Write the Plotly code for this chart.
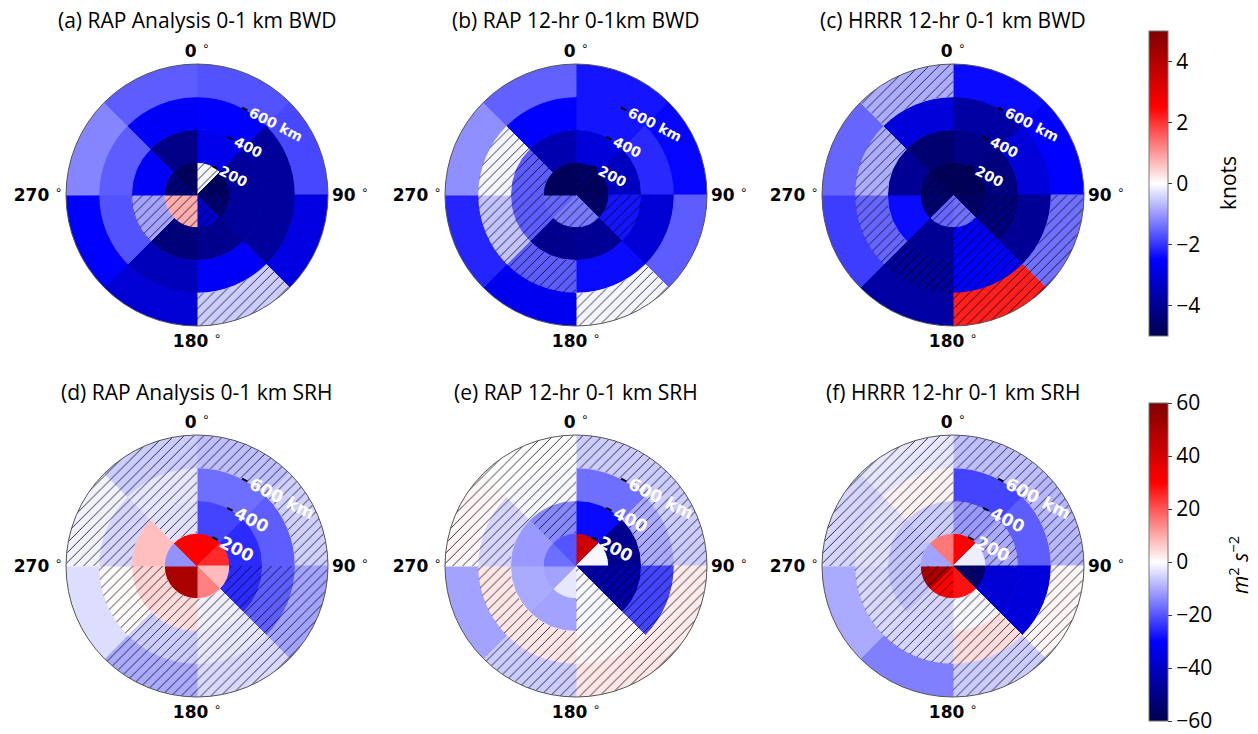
import plotly.graph_objects as go

W, H = 1258, 734

# sector centres (deg clockwise from north) and ring bases (km)
sector_centers = [22.5, 67.5, 112.5, 157.5, 202.5, 247.5, 292.5, 337.5]
sector_width = 45
ring_bases = [0, 200, 400, 600]
ring_depth = 200
radial_ticks = [200, 400, 600]
radial_ticktext = ["200", "400", "600 km"]
angle_ticks = [0, 90, 180, 270]

titles = ["(a) RAP Analysis 0-1 km BWD", "(b) RAP 12-hr 0-1km BWD", "(c) HRRR 12-hr 0-1 km BWD",
          "(d) RAP Analysis 0-1 km SRH", "(e) RAP 12-hr 0-1 km SRH", "(f) HRRR 12-hr 0-1 km SRH"]

# values per ring (inner -> outer), sectors 0-45 ... 315-360
bwd_rap_anl = [[-0.1, -4.8, -4.5, -3.2, 0.8, 0.8, -4.4, -4.8],
               [-2.8, -3.9, -3.9, -4.1, -4.4, -0.9, -2.6, -4.2],
               [-2.5, -3.9, -3.9, -2.6, -3.5, -1.7, -1.6, -2.6],
               [-1.7, -1.8, -2.9, -0.5, -3.1, -2.5, -1.2, -1.6]]
bwd_rap_anl_sig = [[1, 0, 1, 1, 1, 1, 1, 0],
                   [0, 0, 0, 0, 0, 1, 0, 0],
                   [0, 0, 0, 0, 0, 0, 0, 0],
                   [0, 0, 0, 1, 0, 0, 0, 0]]

bwd_rap_12 = [[-4.6, -4.8, -4.7, -1.3, -1.3, -1.5, -4.8, -4.8],
              [-3.0, -3.4, -2.3, -4.0, -4.1, -1.6, -1.6, -3.6],
              [-2.3, -2.1, -3.1, -2.4, -1.6, -0.6, -0.1, -2.5],
              [-2.3, -2.45, -1.6, -0.1, -2.7, -2.15, -1.1, -1.55]]
bwd_rap_12_sig = [[1, 0, 0, 1, 1, 1, 0, 0],
                  [0, 0, 1, 0, 0, 1, 1, 0],
                  [0, 0, 0, 0, 1, 1, 1, 0],
                  [0, 0, 0, 1, 0, 0, 0, 0]]

bwd_hrrr_12 = [[-4.9, -4.9, -4.7, -1.4, -1.5, -4.5, -4.6, -4.9],
               [-4.2, -4.3, -4.3, -2.6, -4.0, -2.4, -4.0, -4.5],
               [-3.8, -3.0, -4.0, -2.5, -3.9, -1.5, -0.8, -3.0],
               [-2.4, -2.5, -1.4, 2.2, -3.8, -1.9, -1.5, -0.8]]
bwd_hrrr_12_sig = [[0, 0, 0, 1, 1, 1, 1, 0],
                   [0, 0, 1, 1, 0, 0, 0, 0],
                   [0, 0, 0, 1, 1, 1, 1, 0],
                   [0, 0, 1, 1, 0, 0, 0, 1]]

srh_rap_anl = [[30, 25, 8, 15, 50, 50, -13, 30],
               [-22, -25, -25, -2, 4, 5, 7.5, -3.5],
               [-17, -19, -19, -3, -6, 0.5, -5, -3],
               [-7.5, -5.5, -11, -4.5, -10, -4, -1.5, -6]]
srh_rap_anl_sig = [[0, 0, 0, 0, 0, 0, 0, 0],
                   [0, 0, 1, 1, 1, 1, 0, 1],
                   [0, 0, 1, 1, 1, 1, 1, 1],
                   [1, 1, 1, 1, 1, 0, 1, 1]]

srh_rap_12 = [[42, -1, -45, -1, -3, -11, -17, -20],
              [-29, -49, -45, -1, -11, -10, -12, -14],
              [-17, -10, -22, 1, 3, 3, -5, -1],
              [-6, -6, 2.5, 3, -6, -11, 1, 0]]
srh_rap_12_sig = [[0, 0, 1, 1, 0, 0, 0, 0],
                  [0, 0, 1, 1, 0, 0, 0, 1],
                  [0, 1, 1, 1, 1, 1, 1, 1],
                  [1, 1, 1, 1, 1, 0, 1, 1]]

srh_hrrr_12 = [[30, -2, -56, 28, 30, 50, -11, 16],
               [-12, -10, -37, -1, -5, -7, -7, -6],
               [-22, -19, -36, 4, -5, -4.5, -3.5, 1.5],
               [-7.5, -8.5, 1, -6, -15, -10, -5, -3]]
srh_hrrr_12_sig = [[0, 0, 0, 0, 1, 1, 0, 0],
                   [1, 1, 0, 1, 1, 1, 1, 1],
                   [0, 0, 0, 1, 1, 1, 1, 1],
                   [1, 1, 1, 1, 0, 0, 1, 1]]

bwd_range = [-5, 5]
srh_range = [-60, 60]
bwd_cbar_ticks = [-4, -2, 0, 2, 4]
srh_cbar_ticks = [-60, -40, -20, 0, 20, 40, 60]
bwd_units = "knots"
srh_units = "<i>m</i><sup>2</sup> <i>s</i><sup>−2</sup>"

panels = [(bwd_rap_anl, bwd_rap_anl_sig, "coloraxis", bwd_range),
          (bwd_rap_12, bwd_rap_12_sig, "coloraxis", bwd_range),
          (bwd_hrrr_12, bwd_hrrr_12_sig, "coloraxis", bwd_range),
          (srh_rap_anl, srh_rap_anl_sig, "coloraxis2", srh_range),
          (srh_rap_12, srh_rap_12_sig, "coloraxis2", srh_range),
          (srh_hrrr_12, srh_hrrr_12_sig, "coloraxis2", srh_range)]

seismic = [[0.0, "rgb(0,0,77)"], [0.25, "rgb(0,0,255)"], [0.5, "rgb(255,255,255)"],
           [0.75, "rgb(255,0,0)"], [1.0, "rgb(128,0,0)"]]

# layout geometry (pixels)
centers_x = [197, 576, 953]
centers_y = [195, 566]
radius = 131

fig = go.Figure()
layout = {}
annotations = []
for i, (vals, sig, cax, crange) in enumerate(panels):
    row, col = divmod(i, 3)
    key = "polar" if i == 0 else f"polar{i+1}"
    sub = key
    th, rr, bb, cc, hth, hrr, hbb = [], [], [], [], [], [], []
    for ri, base in enumerate(ring_bases):
        for si, t in enumerate(sector_centers):
            th.append(t); rr.append(ring_depth); bb.append(base); cc.append(vals[ri][si])
            if sig[ri][si]:
                hth.append(t); hrr.append(ring_depth); hbb.append(base)
    fig.add_trace(go.Barpolar(theta=th, r=rr, base=bb, width=sector_width,
                              marker=dict(color=cc, coloraxis=cax,
                                          line=dict(width=1.0, color=cc, colorscale=seismic,
                                                    cmin=crange[0], cmax=crange[1])),
                              subplot=sub, showlegend=False, hoverinfo="skip"))
    fig.add_trace(go.Barpolar(theta=hth, r=hrr, base=hbb, width=sector_width,
                              marker=dict(color="rgba(0,0,0,0)", line=dict(width=0),
                                          pattern=dict(shape="/", fillmode="replace",
                                                       fgcolor="rgba(0,0,0,0.85)",
                                                       bgcolor="rgba(0,0,0,0)",
                                                       size=7, solidity=0.13)),
                              subplot=sub, showlegend=False, hoverinfo="skip"))
    cx, cy = centers_x[col], centers_y[row]
    rlab = 14 if row == 0 else 17
    layout[key] = dict(
        domain=dict(x=[(cx - radius) / W, (cx + radius) / W],
                    y=[1 - (cy + radius) / H, 1 - (cy - radius) / H]),
        bgcolor="white",
        angularaxis=dict(rotation=90, direction="clockwise", tickmode="array",
                         tickvals=angle_ticks,
                         ticktext=[f"<b>{a}</b> <sup>∘</sup>" for a in angle_ticks],
                         tickfont=dict(family="DejaVu Sans", size=17, color="black"),
                         showgrid=True, gridcolor="black", gridwidth=1.5,
                         showline=True, linecolor="#555", linewidth=1,
                         ticks="", layer="above traces"),
        radialaxis=dict(range=[0, 800], tickmode="array", tickvals=radial_ticks,
                        ticktext=radial_ticktext, angle=63, tickangle=90,
                        side="clockwise", showgrid=False, showline=False,
                        ticks="outside", ticklen=6, tickwidth=2, tickcolor="black",
                        tickfont=dict(family="DejaVu Sans", size=rlab, color="white",
                                      weight="bold"),
                        layer="above traces"),
    )
    annotations.append(dict(text=titles[i], x=cx / W, y=1 - (20 if row == 0 else 392) / H,
                            xref="paper", yref="paper", showarrow=False,
                            xanchor="center", yanchor="middle",
                            font=dict(family="Open Sans", size=21, color="black")))

# colour bar unit labels
annotations.append(dict(text=bwd_units, x=1228 / W, y=1 - 183 / H, xref="paper", yref="paper",
                        showarrow=False, textangle=-90, xanchor="center", yanchor="middle",
                        font=dict(family="Open Sans", size=21, color="black")))
annotations.append(dict(text=srh_units, x=1238 / W, y=1 - 565 / H, xref="paper", yref="paper",
                        showarrow=False, textangle=-90, xanchor="center", yanchor="middle",
                        font=dict(family="Open Sans", size=21, color="black")))

cb_common = dict(thickness=19, thicknessmode="pixels", x=1149 / W, xanchor="left", xpad=0, ypad=0,
                 yanchor="middle", lenmode="fraction", outlinewidth=1, outlinecolor="#777",
                 ticks="outside", ticklen=4, tickcolor="#333", ticklabeloverflow="allow",
                 tickfont=dict(family="Open Sans", size=21, color="black"))

fig.update_layout(
    width=W, height=H, margin=dict(l=0, r=0, t=0, b=0),
    paper_bgcolor="white", plot_bgcolor="white",
    annotations=annotations,
    coloraxis=dict(cmin=bwd_range[0], cmax=bwd_range[1], colorscale=seismic,
                   colorbar=dict(**cb_common, y=1 - 183.5 / H, len=305 / H,
                                 tickvals=bwd_cbar_ticks)),
    coloraxis2=dict(cmin=srh_range[0], cmax=srh_range[1], colorscale=seismic,
                    colorbar=dict(**cb_common, y=1 - 562 / H, len=318 / H,
                                  tickvals=srh_cbar_ticks)),
    **layout,
)

fig.write_html("out.html")
